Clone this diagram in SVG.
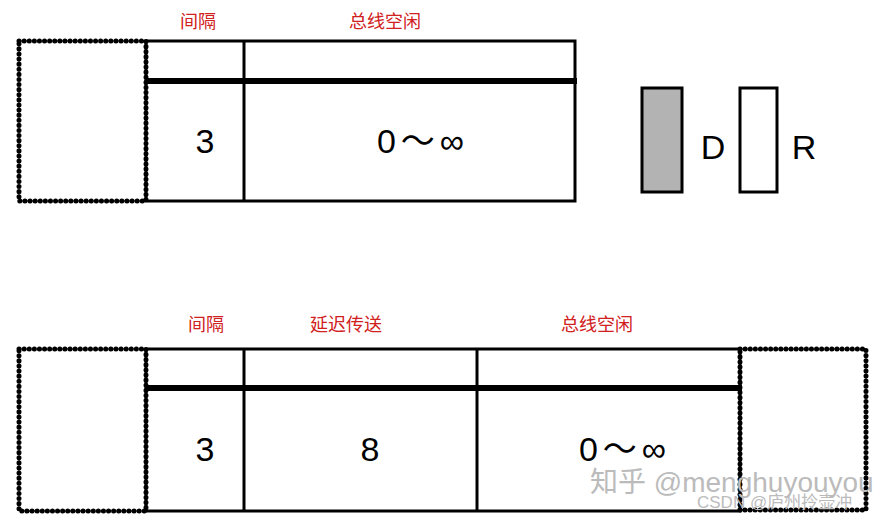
<svg xmlns="http://www.w3.org/2000/svg" width="881" height="520" viewBox="0 0 881 520">
<style>
.box{fill:none;stroke:#000;stroke-width:3}
.dot{fill:none;stroke:#000;stroke-width:5;stroke-dasharray:0.1 5;stroke-linecap:round}
.bus{stroke:#000;stroke-width:6}
.lbl{font-family:"Liberation Sans","Noto Sans CJK SC",sans-serif;font-size:18px;fill:#d02020;text-anchor:middle}
.num{font-family:"Liberation Sans","Noto Sans CJK SC",sans-serif;font-size:34px;fill:#000;text-anchor:middle}
.inf{letter-spacing:5px}
.wm{font-family:"Liberation Sans","Noto Sans CJK SC",sans-serif;fill:#bbb}
</style>
<rect width="881" height="520" fill="#fff"/>
<g id="top">
<g id="top-prev"><rect class="dot" x="19" y="41" width="127" height="160"/></g>
<g id="top-frame">
<rect class="box" x="146" y="41" width="429" height="160"/>
<line class="box" x1="244" y1="41" x2="244" y2="201"/>
</g>
<g id="top-labels">
<text class="lbl" x="198" y="28">间隔</text>
<text class="lbl" x="385" y="28">总线空闲</text>
<text class="num" x="205" y="153">3</text>
<text class="num inf" x="423" y="153">0～∞</text>
</g>
</g>
<g id="legend">
<g id="D"><rect x="642" y="88" width="40" height="104" fill="#b3b3b3" stroke="#000" stroke-width="3"/>
<text class="num" x="713" y="159">D</text></g>
<g id="R"><rect x="740" y="88" width="37" height="104" fill="#fff" stroke="#000" stroke-width="3"/>
<text class="num" x="804" y="159">R</text></g>
</g>
<g id="bottom">
<g id="bot-prev"><rect class="dot" x="19" y="349" width="127" height="162"/></g>
<g id="bot-next"><rect class="dot" x="740" y="349" width="126" height="161"/></g>
<g id="bot-frame">
<rect class="box" x="146" y="349" width="594" height="162"/>
<line class="box" x1="244" y1="349" x2="244" y2="511"/>
<line class="box" x1="477" y1="349" x2="477" y2="511"/>
</g>
<g id="bot-labels">
<text class="lbl" x="206" y="331">间隔</text>
<text class="lbl" x="346" y="331">延迟传送</text>
<text class="lbl" x="597" y="331">总线空闲</text>
<text class="num" x="205" y="461">3</text>
<text class="num" x="370" y="461">8</text>
<text class="num inf" x="625" y="461">0～∞</text>
</g>
</g>
<g id="connectors">
<line class="bus" x1="146" y1="81" x2="577" y2="81"/>
<line class="bus" x1="146" y1="388" x2="742" y2="388"/>
</g>
<g id="watermark">
<text class="wm" x="590" y="492" font-size="28">知乎 @menghuyouyou</text>
<text class="wm" x="697" y="508" font-size="17">CSDN @庐州拎壶冲</text>
</g>
</svg>
